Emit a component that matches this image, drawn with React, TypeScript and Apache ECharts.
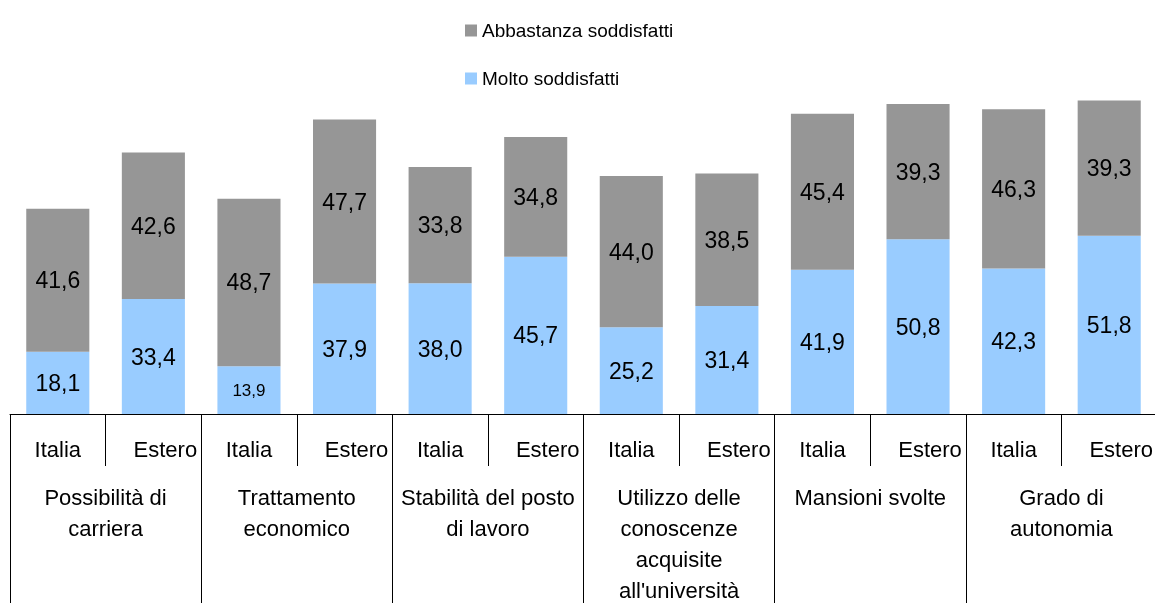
import React, { useEffect, useRef } from "react";
import * as echarts from "echarts";

const subCategories = ["Italia", "Estero", "Italia", "Estero", "Italia", "Estero", "Italia", "Estero", "Italia", "Estero", "Italia", "Estero"];
const groupCategories = [
  "Possibilità di\ncarriera",
  "Trattamento\neconomico",
  "Stabilità del posto\ndi lavoro",
  "Utilizzo delle\nconoscenze\nacquisite\nall'università",
  "Mansioni svolte",
  "Grado di\nautonomia",
];
const molto = [18.1, 33.4, 13.9, 37.9, 38.0, 45.7, 25.2, 31.4, 41.9, 50.8, 42.3, 51.8];
const abbastanza = [41.6, 42.6, 48.7, 47.7, 33.8, 34.8, 44.0, 38.5, 45.4, 39.3, 46.3, 39.3];

const FONT = "'Liberation Sans', Arial, sans-serif";
const fmt = (p: any) => Number(p.value).toFixed(1).replace(".", ",");

export default function App() {
  const ref = useRef<HTMLDivElement>(null);
  useEffect(() => {
    if (!ref.current) return;
    const chart = echarts.init(ref.current, null, { renderer: "svg" });
    chart.setOption({
      animation: false,
      textStyle: { fontFamily: FONT },
      legend: {
        orient: "vertical",
        left: 460,
        top: 16,
        itemGap: 29,
        itemWidth: 12,
        itemHeight: 12,
        icon: "rect",
        data: ["Abbastanza soddisfatti", "Molto soddisfatti"],
        textStyle: { fontSize: 19, color: "#000", fontFamily: FONT },
      },
      grid: { left: 10, right: -2, top: 70, bottom: 189, outerBoundsMode: "none", containLabel: false },
      xAxis: [
        {
          type: "category",
          data: subCategories,
          position: "bottom",
          axisLine: { show: true, lineStyle: { color: "#000", width: 1 } },
          axisTick: { show: true, length: 52, lineStyle: { color: "#000" } },
          axisLabel: {
            color: "#000",
            fontSize: 22,
            margin: 24,
            interval: 0,
            fontFamily: FONT,
            formatter: (v: string) => (v === "Estero" ? "{e|" + v + "}" : v),
            rich: { e: { fontSize: 22, padding: [0, 0, 0, 24], color: "#000", fontFamily: FONT } },
          },
        },
        {
          type: "category",
          data: groupCategories,
          position: "bottom",
          offset: 0,
          axisLine: { show: false },
          axisTick: { show: true, length: 200, lineStyle: { color: "#000" } },
          axisLabel: {
            color: "#000",
            fontSize: 22,
            lineHeight: 31,
            margin: 68,
            interval: 0,
            fontFamily: FONT,
          },
        },
      ],
      yAxis: { type: "value", min: 0, max: 100, show: false, splitLine: { show: false } },
      series: [
        {
          name: "Molto soddisfatti",
          type: "bar",
          stack: "tot",
          xAxisIndex: 0,
          barWidth: "66%",
          itemStyle: { color: "#99CCFF" },
          label: { show: true, position: "inside", formatter: fmt, color: "#000", fontSize: 23, fontFamily: FONT },
          data: molto.map((v) => (v < 15 ? { value: v, label: { fontSize: 17 } } : v)),
        },
        {
          name: "Abbastanza soddisfatti",
          type: "bar",
          stack: "tot",
          xAxisIndex: 0,
          barWidth: "66%",
          itemStyle: { color: "#969696" },
          label: { show: true, position: "inside", formatter: fmt, color: "#000", fontSize: 23, fontFamily: FONT },
          data: abbastanza,
        },
      ],
    });
    return () => chart.dispose();
  }, []);
  return <div ref={ref} style={{ position: "fixed", left: 0, top: 0, width: 1155, height: 603 }} />;
}
